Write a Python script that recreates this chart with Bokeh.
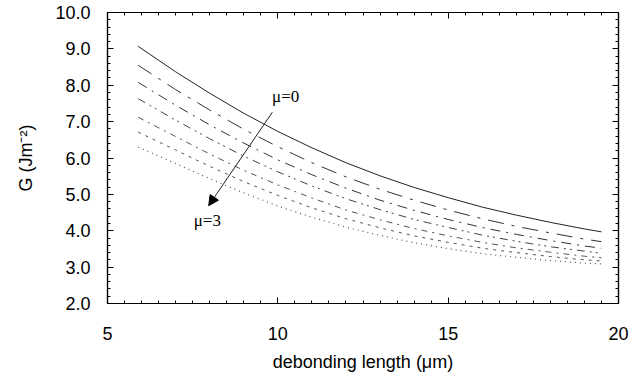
from bokeh.plotting import figure
from bokeh.models import (Range1d, LinearAxis, SingleIntervalTicker, NumeralTickFormatter,
                          CustomJSTickFormatter, Arrow, NormalHead, Label, ColumnDataSource)
from bokeh.embed import file_html
from bokeh.resources import INLINE

# debonding length (um)
x_vals = [5.9, 7, 8, 9, 10, 11, 12, 13, 14, 15, 16, 17, 18, 19, 19.5]

# G (J m^-2) for mu = 0, 0.5, 1, 1.5, 2, 2.5, 3
g_mu0 = [9.07, 8.37, 7.78, 7.23, 6.73, 6.28, 5.87, 5.51, 5.19, 4.91, 4.65, 4.43, 4.23, 4.05, 3.97]
g_mu05 = [8.55, 7.88, 7.32, 6.79, 6.31, 5.87, 5.48, 5.14, 4.84, 4.57, 4.33, 4.12, 3.94, 3.77, 3.70]
g_mu1 = [8.08, 7.45, 6.91, 6.41, 5.95, 5.54, 5.17, 4.84, 4.56, 4.31, 4.09, 3.90, 3.73, 3.58, 3.52]
g_mu15 = [7.63, 7.04, 6.53, 6.05, 5.62, 5.23, 4.88, 4.58, 4.31, 4.09, 3.88, 3.71, 3.56, 3.44, 3.38]
g_mu2 = [7.12, 6.59, 6.11, 5.66, 5.26, 4.90, 4.57, 4.30, 4.06, 3.86, 3.68, 3.53, 3.41, 3.30, 3.26]
g_mu25 = [6.71, 6.22, 5.77, 5.35, 4.97, 4.63, 4.33, 4.08, 3.86, 3.68, 3.52, 3.40, 3.29, 3.20, 3.17]
g_mu3 = [6.30, 5.85, 5.43, 5.04, 4.68, 4.37, 4.10, 3.87, 3.67, 3.51, 3.37, 3.27, 3.18, 3.11, 3.09]

x_ticks_interval = 5
y_ticks_interval = 1

FONT = "Liberation Sans"

p = figure(width=643, height=379, output_backend="svg", toolbar_location=None,
           x_range=Range1d(5, 20), y_range=Range1d(2, 10),
           x_axis_label="debonding length (\u03bcm)", y_axis_label="G (Jm\u207b\u00b2)",
           min_border_left=107, min_border_right=25, min_border_top=12, min_border_bottom=76)
p.background_fill_color = "white"
p.border_fill_color = "white"
p.xgrid.visible = False
p.ygrid.visible = False
p.outline_line_color = "black"
p.outline_line_width = 1.2

for ax in p.xaxis:
    ax.ticker = SingleIntervalTicker(interval=x_ticks_interval, num_minor_ticks=10)
for ax in p.yaxis:
    ax.ticker = SingleIntervalTicker(interval=y_ticks_interval, num_minor_ticks=5)
    ax.formatter = NumeralTickFormatter(format="0.0")

def style(ax, labels=True):
    ax.major_tick_in = 6
    ax.major_tick_out = 0
    ax.minor_tick_in = 3
    ax.minor_tick_out = 0
    ax.axis_line_color = "black"
    ax.axis_line_width = 1.2
    ax.major_tick_line_color = "black"
    ax.minor_tick_line_color = "black"
    if labels:
        ax.major_label_text_font = FONT
        ax.major_label_text_font_size = "18px"
        ax.major_label_text_color = "black"
        ax.axis_label_text_font = FONT
        ax.axis_label_text_font_size = "18px"
        ax.axis_label_text_font_style = "normal"
        ax.axis_label_text_color = "black"
    else:
        ax.formatter = CustomJSTickFormatter(code="return '';")
        ax.major_label_text_font_size = "1px"
        ax.major_label_standoff = 0

style(p.xaxis[0])
style(p.yaxis[0])
p.xaxis[0].major_label_standoff = 23
p.xaxis[0].axis_label_standoff = 9
p.yaxis[0].major_label_standoff = 17
p.yaxis[0].axis_label_standoff = 16

top = LinearAxis(ticker=SingleIntervalTicker(interval=x_ticks_interval, num_minor_ticks=10))
right = LinearAxis(ticker=SingleIntervalTicker(interval=y_ticks_interval, num_minor_ticks=5))
style(top, labels=False)
style(right, labels=False)
p.add_layout(top, "above")
p.add_layout(right, "right")

series = [
    (g_mu0, None, "#222222", 1.0),
    (g_mu05, "16 8 3 8", "#333333", 1.0),
    (g_mu1, "10 6 2 6", "#333333", 1.0),
    (g_mu15, "8 5 2 4 2 5", "#444444", 1.0),
    (g_mu2, "6 5 2 5", "#555555", 1.0),
    (g_mu25, "3 5", "#555555", 1.0),
    (g_mu3, "1 4", "#555555", 1.2),
]
for ys, dash, col, w in series:
    src = ColumnDataSource(dict(x=x_vals, y=ys))
    if dash is None:
        p.line("x", "y", source=src, line_color=col, line_width=w)
    else:
        p.line("x", "y", source=src, line_color=col, line_width=w, line_dash=dash)

p.add_layout(Arrow(end=NormalHead(size=10, fill_color="black", line_color="black"),
                   x_start=9.84, y_start=7.26, x_end=7.97, y_end=4.69,
                   line_color="#222222", line_width=1))

p.add_layout(Label(x=9.83, y=7.44, text="\u03bc=0", text_font="Liberation Serif",
                   text_font_size="17px", text_color="black"))
p.add_layout(Label(x=7.53, y=4.03, text="\u03bc=3", text_font="Liberation Serif",
                   text_font_size="17px", text_color="black"))

open("out.html", "w").write(file_html(p, INLINE))
